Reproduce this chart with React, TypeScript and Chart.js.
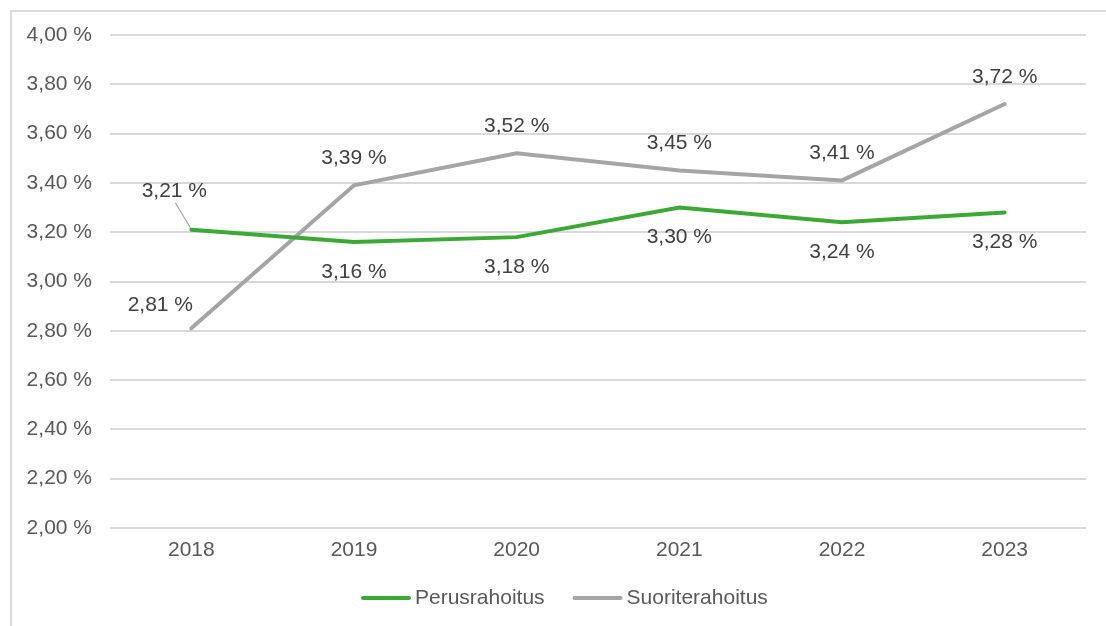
import React, { useEffect, useRef } from "react";
import { Chart, registerables } from "chart.js";

Chart.register(...registerables);

const categories = ["2018", "2019", "2020", "2021", "2022", "2023"];
const perusrahoitus = [3.21, 3.16, 3.18, 3.3, 3.24, 3.28];
const suoriterahoitus = [2.81, 3.39, 3.52, 3.45, 3.41, 3.72];
const seriesNames = ["Perusrahoitus", "Suoriterahoitus"];

const GREEN = "#3BAA34";
const GRAY = "#A5A5A5";
const FONT = "'Liberation Sans', Arial, sans-serif";
const FS = 21;

const fmt = (v: number) => v.toFixed(2).replace(".", ",") + " %";

// label offsets (pixels) per dataset per point
const labelOffsets: [number, number][][] = [
  [[-17, -39], [0, 30], [0, 30], [0, 30], [0, 30], [0, 30]],
  [[-31, -23], [0, -27], [0, -27], [0, -27], [0, -27], [0, -27]],
];

const dataLabelPlugin = {
  id: "dataLabels",
  afterDatasetsDraw(chart: any) {
    const ctx = chart.ctx;
    ctx.save();
    ctx.font = `${FS}px ${FONT}`;
    ctx.fillStyle = "#404040";
    ctx.textAlign = "center";
    ctx.textBaseline = "middle";
    chart.data.datasets.forEach((ds: any, di: number) => {
      const meta = chart.getDatasetMeta(di);
      meta.data.forEach((pt: any, i: number) => {
        const [dx, dy] = labelOffsets[di][i];
        const x = pt.x + dx;
        const y = pt.y + dy;
        if (di === 0 && i === 0) {
          ctx.strokeStyle = "#A5A5A5";
          ctx.lineWidth = 1.2;
          ctx.beginPath();
          ctx.moveTo(x + 1, y + 12);
          ctx.lineTo(pt.x - 1, pt.y - 2);
          ctx.stroke();
        }
        ctx.fillText(fmt(ds.data[i]), x, y);
      });
    });
    ctx.restore();
  },
};

const legendPlugin = {
  id: "customLegend",
  afterDraw(chart: any) {
    const ctx = chart.ctx;
    ctx.save();
    ctx.font = `${FS}px ${FONT}`;
    ctx.textBaseline = "middle";
    ctx.textAlign = "left";
    const y = 598;
    let x = 363;
    chart.data.datasets.forEach((ds: any) => {
      ctx.strokeStyle = ds.borderColor;
      ctx.lineWidth = 4;
      ctx.lineCap = "round";
      ctx.beginPath();
      ctx.moveTo(x, y);
      ctx.lineTo(x + 46, y);
      ctx.stroke();
      ctx.fillStyle = "#595959";
      ctx.fillText(ds.label, x + 52, y);
      x += 52 + ctx.measureText(ds.label).width + 30;
    });
    ctx.restore();
  },
};

export default function App() {
  const ref = useRef<HTMLCanvasElement>(null);
  useEffect(() => {
    if (!ref.current) return;
    const chart = new Chart(ref.current, {
      type: "line",
      data: {
        labels: categories,
        datasets: [
          {
            label: seriesNames[0],
            data: perusrahoitus,
            borderColor: GREEN,
            backgroundColor: GREEN,
            borderWidth: 4,
            pointRadius: 0,
            borderCapStyle: "round",
            tension: 0,
          },
          {
            label: seriesNames[1],
            data: suoriterahoitus,
            borderColor: GRAY,
            backgroundColor: GRAY,
            borderWidth: 4,
            pointRadius: 0,
            borderCapStyle: "round",
            tension: 0,
          },
        ],
      },
      options: {
        animation: false,
        responsive: false,
        maintainAspectRatio: false,
        layout: { padding: { top: 35, right: 20, bottom: 70, left: 0 } },
        plugins: {
          legend: { display: false },
          tooltip: { enabled: false },
        },
        scales: {
          x: {
            offset: true,
            grid: { display: false, drawTicks: false },
            border: { display: false },
            ticks: {
              font: { family: FONT, size: FS },
              color: "#595959",
              padding: 10,
            },
            afterFit(scale: any) {
              scale.height = 28;
            },
          },
          y: {
            min: 2,
            max: 4,
            ticks: {
              stepSize: 0.2,
              font: { family: FONT, size: FS },
              color: "#595959",
              padding: 18,
              callback: (v: any) => fmt(Number(v)),
            },
            grid: { color: "#D9D9D9", lineWidth: 2, drawTicks: false },
            border: { display: false },
            afterFit(scale: any) {
              scale.width = 110;
            },
          },
        },
      },
      plugins: [dataLabelPlugin, legendPlugin],
    });
    return () => chart.destroy();
  }, []);
  return (
    <div style={{ position: "fixed", left: 0, top: 0, width: 1106, height: 626, background: "#fff" }}>
      <div
        style={{
          position: "absolute",
          left: 10,
          top: 10,
          width: 1100,
          height: 620,
          borderTop: "2px solid #D9D9D9",
          borderLeft: "2px solid #D9D9D9",
        }}
      />
      <canvas ref={ref} width={1106} height={626} style={{ position: "absolute", left: 0, top: 0 }} />
    </div>
  );
}
